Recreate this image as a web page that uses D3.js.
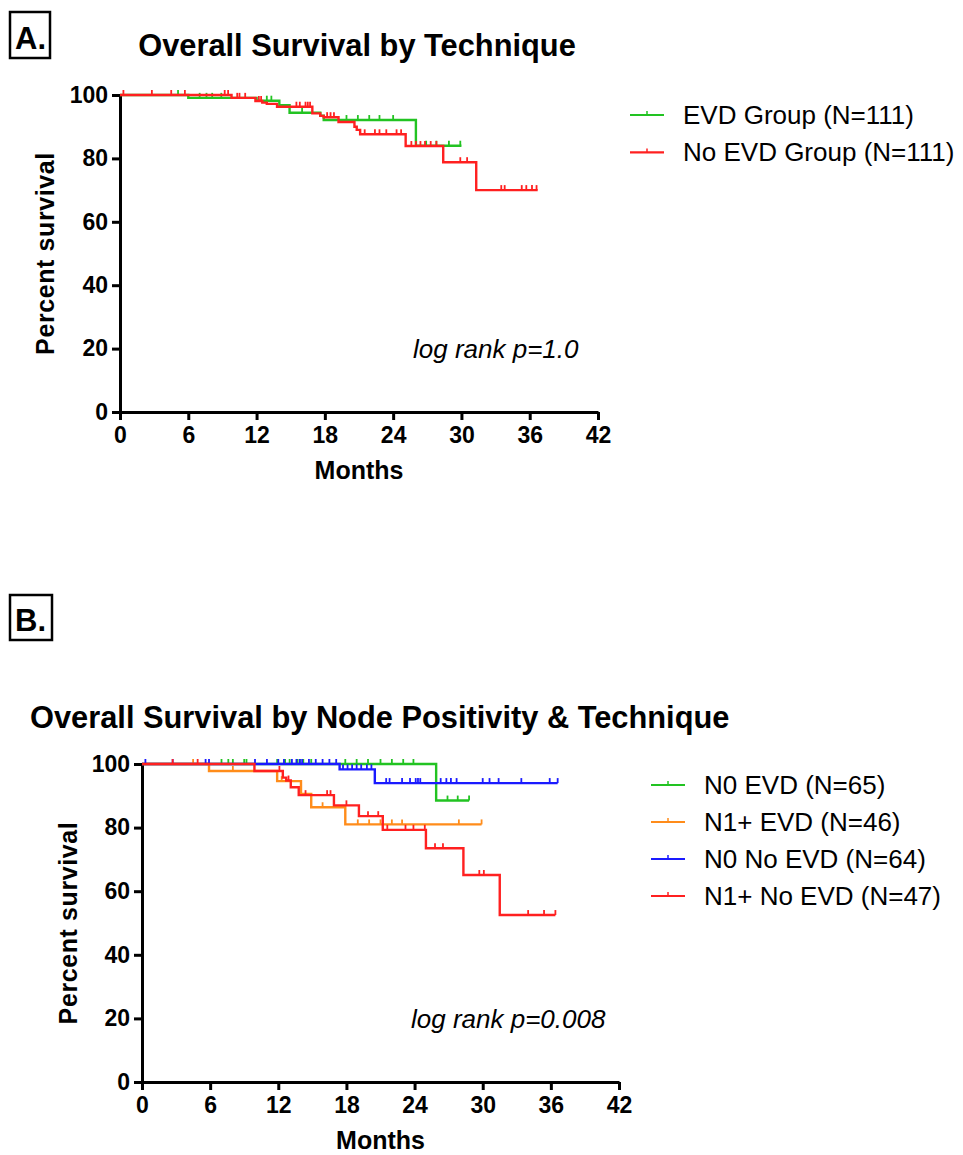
<!DOCTYPE html>
<html>
<head>
<meta charset="utf-8">
<script src="https://d3js.org/d3.v7.min.js"></script>
<style>
  body { margin: 0; background: #fff; }
  svg { display: block; font-family: 'Liberation Sans', Arial, sans-serif; }
  .axis path, .axis line { stroke: #000; stroke-width: 3; }
  .axis text { font-size: 23px; font-weight: bold; fill: #000; }
</style>
</head>
<body>
<div id="holder"></div>
<script>
  // Ticks
  const xTicks = [0, 6, 12, 18, 24, 30, 36, 42];
  const yTicks = [0, 20, 40, 60, 80, 100];

  // Panel A - steps (month, percent) and censored months
  const evdMonths = [0, 6.0, 12.0, 14.0, 14.9, 17.6, 17.9, 26.0];
  const evdSurv = [100, 99.1, 98.2, 96.8, 94.4, 93.5, 92.1, 84.0];
  const evdEnd = 30.0;
  const evdCensor = [5.1, 7.0, 7.6, 8.1, 8.9, 12.9, 13.3, 16.0, 19.9, 20.9, 21.9, 22.8, 24.0, 26.9, 27.8, 28.9, 29.9];

  const noEvdMonths = [0, 9.8, 11.9, 12.5, 12.9, 13.8, 16.9, 17.6, 17.9, 19.2, 20.6, 20.8, 21.1, 25.1, 28.4, 31.3];
  const noEvdSurv = [100, 99.1, 98.1, 97.6, 97.2, 96.3, 94.2, 93.4, 93.0, 91.5, 90.0, 89.0, 87.6, 83.9, 78.8, 70.0];
  const noEvdEnd = 36.7;
  const noEvdCensor = [0.3, 2.8, 4.5, 5.7, 9.2, 9.5, 10.3, 10.5, 11.0, 12.2, 12.4, 15.5, 15.8, 16.3, 16.5, 16.7,
    18.2, 18.5, 18.8, 21.5, 22.4, 22.8, 23.4, 24.3, 24.7, 25.6, 26.0, 26.4, 26.8, 27.3, 27.8, 29.9, 30.5,
    33.5, 33.8, 35.3, 35.7, 36.2, 36.6];

  // Panel B
  const n0EvdMonths = [0, 25.9];
  const n0EvdSurv = [100, 88.5];
  const n0EvdEnd = 28.8;
  const n0EvdCensor = [7.0, 7.6, 8.0, 9.0, 9.2, 11.9, 12.6, 13.0, 13.7, 13.9, 14.2, 14.9, 17.9, 18.9, 19.9,
    21.0, 22.0, 23.0, 23.9, 26.9, 27.8, 28.8];

  const n1EvdMonths = [0, 5.9, 11.9, 14.0, 14.9, 17.9];
  const n1EvdSurv = [100, 97.8, 94.6, 90.6, 86.4, 81.0];
  const n1EvdEnd = 29.9;
  const n1EvdCensor = [4.5, 8.0, 12.3, 15.9, 19.0, 20.0, 21.0, 22.0, 22.9, 27.9, 29.9];

  const n0NoEvdMonths = [0, 17.4, 20.5];
  const n0NoEvdSurv = [100, 98.3, 94.0];
  const n0NoEvdEnd = 36.6;
  const n0NoEvdCensor = [0.3, 2.7, 5.6, 5.9, 9.95, 11.0, 12.0, 12.5, 13.2, 13.6, 13.9, 14.1, 14.7, 15.3, 15.9,
    16.5, 17.1, 17.7, 18.1, 18.5, 18.9, 19.3, 19.8, 20.2, 21.5, 21.8, 22.9, 23.6, 24.1, 24.3, 24.5, 26.3,
    26.8, 27.2, 27.7, 30.0, 30.6, 31.4, 33.4, 35.9, 36.6];

  const n1NoEvdMonths = [0, 9.9, 12.4, 12.7, 13.1, 13.8, 16.9, 19.1, 21.2, 25.0, 28.3, 31.5];
  const n1NoEvdSurv = [100, 97.8, 95.7, 94.8, 92.7, 90.2, 87.0, 83.6, 79.3, 73.5, 65.1, 52.5];
  const n1NoEvdEnd = 36.4;
  const n1NoEvdCensor = [2.7, 4.9, 12.1, 12.9, 14.4, 16.3, 16.6, 18.0, 19.9, 20.8, 21.6, 23.2, 23.9, 24.9,
    25.8, 26.5, 29.7, 30.1, 34.0, 35.4, 36.4];

  const green = '#22c322';
  const red = '#ff2020';
  const orange = '#ff8c1a';
  const blue = '#1a1aff';

  const W = 963, H = 1155;
  const svg = d3.select('#holder').append('svg').attr('width', W).attr('height', H);

  function survAt(months, surv, t) {
    let s = surv[0];
    for (let i = 0; i < months.length; i++) {
      if (months[i] <= t) s = surv[i];
    }
    return s;
  }

  function drawPanel(p) {
    const x = d3.scaleLinear().domain([0, 42]).range(p.xRange);
    const y = d3.scaleLinear().domain([0, 100]).range(p.yRange);
    const g = svg.append('g');

    // label box
    g.append('rect')
      .attr('x', p.box[0]).attr('y', p.box[1])
      .attr('width', p.box[2]).attr('height', p.box[3])
      .attr('fill', 'none').attr('stroke', '#000').attr('stroke-width', 2.5);
    g.append('text')
      .attr('x', p.box[0] + 5).attr('y', p.box[1] + p.box[3] - 9)
      .style('font-size', '31px').style('font-weight', 'bold')
      .text(p.letter);

    g.append('text')
      .attr('x', p.titlePos[0]).attr('y', p.titlePos[1])
      .attr('text-anchor', p.titleAnchor)
      .style('font-size', '30.8px').style('font-weight', 'bold')
      .text(p.title);

    // axes
    g.append('g').attr('class', 'axis')
      .attr('transform', 'translate(0,' + p.yRange[0] + ')')
      .call(d3.axisBottom(x).tickValues(xTicks).tickSize(8).tickSizeOuter(0).tickPadding(7));
    g.append('g').attr('class', 'axis')
      .attr('transform', 'translate(' + p.xRange[0] + ',0)')
      .call(d3.axisLeft(y).tickValues(yTicks).tickSize(8).tickSizeOuter(0).tickPadding(4));

    g.append('text')
      .attr('x', (p.xRange[0] + p.xRange[1]) / 2).attr('y', p.yRange[0] + 67)
      .attr('text-anchor', 'middle')
      .style('font-size', '25px').style('font-weight', 'bold')
      .text('Months');

    g.append('text')
      .attr('transform', 'translate(' + p.yLabelX + ',' + (p.yRange[0] + p.yRange[1]) / 2 + ') rotate(-90)')
      .attr('text-anchor', 'middle')
      .style('font-size', '25px').style('font-weight', 'bold')
      .style('letter-spacing', '0.6px')
      .text('Percent survival');

    g.append('text')
      .attr('x', p.pPos[0]).attr('y', p.pPos[1])
      .style('font-size', '26px').style('font-style', 'italic')
      .text(p.pText);

    const line = d3.line()
      .x((d) => x(d[0]))
      .y((d) => y(d[1]))
      .curve(d3.curveStepAfter);

    p.series.forEach((s) => {
      const pts = s.months.map((m, i) => [m, s.surv[i]]);
      pts.push([s.end, s.surv[s.surv.length - 1]]);
      g.append('path')
        .datum(pts)
        .attr('fill', 'none')
        .attr('stroke', s.color)
        .attr('stroke-width', 2.4)
        .attr('d', line);
      g.selectAll(null)
        .data(s.censor)
        .enter()
        .append('line')
        .attr('x1', (d) => x(d)).attr('x2', (d) => x(d))
        .attr('y1', (d) => y(survAt(s.months, s.surv, d)))
        .attr('y2', (d) => y(survAt(s.months, s.surv, d)) - 5)
        .attr('stroke', s.color)
        .attr('stroke-width', 1.8);
    });

    // legend
    p.legendOrder.forEach((s, i) => {
      const ly = p.legend[1] + i * p.legendGap;
      g.append('line')
        .attr('x1', p.legend[0]).attr('x2', p.legend[0] + 34)
        .attr('y1', ly).attr('y2', ly)
        .attr('stroke', s.color).attr('stroke-width', 2.2);
      g.append('line')
        .attr('x1', p.legend[0] + 17).attr('x2', p.legend[0] + 17)
        .attr('y1', ly).attr('y2', ly - 4)
        .attr('stroke', s.color).attr('stroke-width', 1.5);
      g.append('text')
        .attr('x', p.legend[0] + 53).attr('y', ly + 9)
        .style('font-size', '26px')
        .text(s.name);
    });
  }

  const evd = { name: 'EVD Group (N=111)', color: green, months: evdMonths, surv: evdSurv, end: evdEnd, censor: evdCensor };
  const noEvd = { name: 'No EVD Group (N=111)', color: red, months: noEvdMonths, surv: noEvdSurv, end: noEvdEnd, censor: noEvdCensor };

  drawPanel({
    letter: 'A.', box: [10, 12, 40, 46],
    title: 'Overall Survival by Technique', titlePos: [357, 56], titleAnchor: 'middle',
    xRange: [120, 598], yRange: [412, 95], yLabelX: 54,
    pText: 'log rank p=1.0', pPos: [413, 358],
    series: [evd, noEvd], legendOrder: [evd, noEvd],
    legend: [630, 115], legendGap: 37.4
  });

  const n0Evd = { name: 'N0 EVD (N=65)', color: green, months: n0EvdMonths, surv: n0EvdSurv, end: n0EvdEnd, censor: n0EvdCensor };
  const n1Evd = { name: 'N1+ EVD (N=46)', color: orange, months: n1EvdMonths, surv: n1EvdSurv, end: n1EvdEnd, censor: n1EvdCensor };
  const n0NoEvd = { name: 'N0 No EVD (N=64)', color: blue, months: n0NoEvdMonths, surv: n0NoEvdSurv, end: n0NoEvdEnd, censor: n0NoEvdCensor };
  const n1NoEvd = { name: 'N1+ No EVD (N=47)', color: red, months: n1NoEvdMonths, surv: n1NoEvdSurv, end: n1NoEvdEnd, censor: n1NoEvdCensor };

  drawPanel({
    letter: 'B.', box: [10, 595, 42, 45],
    title: 'Overall Survival by Node Positivity & Technique', titlePos: [30, 728], titleAnchor: 'start',
    xRange: [142, 619], yRange: [1082, 764], yLabelX: 77,
    pText: 'log rank p=0.008', pPos: [411, 1028],
    series: [n0Evd, n1Evd, n0NoEvd, n1NoEvd], legendOrder: [n0Evd, n1Evd, n0NoEvd, n1NoEvd],
    legend: [651, 785], legendGap: 37
  });
</script>
</body>
</html>
